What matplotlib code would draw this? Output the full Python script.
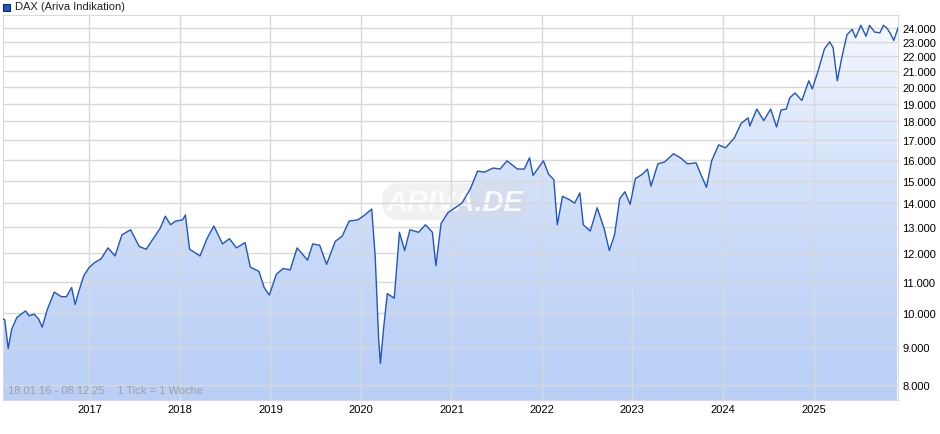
import numpy as np
import pandas as pd
import matplotlib
matplotlib.use('Agg')
import matplotlib.pyplot as plt
from matplotlib.ticker import FixedLocator, FuncFormatter, NullLocator

plt.rcParams['font.family'] = ['Liberation Sans', 'DejaVu Sans']

# wöchentliche/monatliche Stützpunkte DAX
dates = [
    '2016-01-18', '2016-01-25', '2016-02-08', '2016-02-22', '2016-03-14', '2016-04-18', '2016-05-02',
    '2016-05-23', '2016-06-10', '2016-06-24', '2016-07-15', '2016-08-12', '2016-09-09', '2016-09-30',
    '2016-10-21', '2016-11-04', '2016-11-18', '2016-12-09', '2016-12-30',
    '2017-01-20', '2017-02-17', '2017-03-17', '2017-04-14', '2017-05-12', '2017-06-16', '2017-07-21',
    '2017-08-18', '2017-09-15', '2017-10-13', '2017-11-03', '2017-11-24', '2017-12-15',
    '2018-01-12', '2018-01-23', '2018-02-09', '2018-03-23', '2018-04-20', '2018-05-18', '2018-06-22',
    '2018-07-20', '2018-08-17', '2018-09-21', '2018-10-12', '2018-11-16', '2018-12-07', '2018-12-28',
    '2019-01-25', '2019-02-22', '2019-03-22', '2019-04-19', '2019-05-31', '2019-06-21', '2019-07-19',
    '2019-08-16', '2019-09-20', '2019-10-18', '2019-11-15', '2019-12-20',
    '2020-01-17', '2020-02-14', '2020-02-28', '2020-03-13', '2020-03-20', '2020-04-03', '2020-04-17',
    '2020-05-15', '2020-06-05', '2020-06-26', '2020-07-17', '2020-08-21', '2020-09-18', '2020-10-16',
    '2020-10-30', '2020-11-20', '2020-12-18',
    '2021-01-15', '2021-02-12', '2021-03-19', '2021-04-16', '2021-05-14', '2021-06-18', '2021-07-16',
    '2021-08-13', '2021-09-24', '2021-10-22', '2021-11-12', '2021-11-26', '2021-12-17',
    '2022-01-07', '2022-01-28', '2022-02-18', '2022-03-04', '2022-03-25', '2022-04-22', '2022-05-13',
    '2022-06-03', '2022-06-17', '2022-07-15', '2022-08-12', '2022-09-09', '2022-09-30', '2022-10-21',
    '2022-11-11', '2022-12-02', '2022-12-23',
    '2023-01-13', '2023-02-10', '2023-03-03', '2023-03-17', '2023-04-14', '2023-05-12', '2023-06-16',
    '2023-07-14', '2023-08-11', '2023-09-15', '2023-10-06', '2023-10-27', '2023-11-17', '2023-12-15',
    '2024-01-12', '2024-02-16', '2024-03-15', '2024-04-12', '2024-04-19', '2024-05-17', '2024-06-14',
    '2024-07-12', '2024-08-05', '2024-08-23', '2024-09-13', '2024-09-27', '2024-10-18', '2024-11-15',
    '2024-12-13', '2024-12-27',
    '2025-01-17', '2025-02-14', '2025-03-07', '2025-03-21', '2025-04-07', '2025-04-25', '2025-05-16',
    '2025-06-06', '2025-06-20', '2025-07-11', '2025-08-01', '2025-08-15', '2025-09-05', '2025-09-26',
    '2025-10-10', '2025-10-24', '2025-11-07', '2025-11-21', '2025-12-08',
]
values = [
    9800, 9780, 8950, 9500, 9850, 10050, 9900,
    9950, 9800, 9560, 10100, 10650, 10500, 10500,
    10800, 10250, 10650, 11200, 11480,
    11650, 11800, 12200, 11900, 12700, 12900, 12250,
    12150, 12550, 12950, 13450, 13100, 13250,
    13300, 13500, 12150, 11900, 12550, 13050, 12350,
    12550, 12200, 12400, 11500, 11350, 10800, 10550,
    11250, 11450, 11400, 12200, 11750, 12350, 12300,
    11600, 12450, 12650, 13250, 13300,
    13500, 13750, 11900, 9230, 8550, 9600, 10600,
    10450, 12800, 12100, 12900, 12800, 13100, 12800,
    11550, 13150, 13600,
    13800, 14000, 14650, 15450, 15400, 15600, 15550,
    15950, 15550, 15550, 16100, 15250, 15600,
    15950, 15300, 15050, 13100, 14300, 14150, 14000,
    14450, 13100, 12850, 13800, 12950, 12100, 12700,
    14200, 14500, 13950,
    15100, 15300, 15550, 14750, 15800, 15900, 16300,
    16100, 15800, 15850, 15250, 14700, 15950, 16750,
    16600, 17100, 17900, 18200, 17750, 18700, 18050,
    18700, 17700, 18650, 18700, 19350, 19650, 19200,
    20400, 19900,
    20900, 22500, 23000, 22600, 20400, 21900, 23500,
    23900, 23300, 24200, 23400, 24200, 23700, 23650,
    24200, 24000, 23600, 23100, 24000,
]

yticks = [8000, 9000, 10000, 11000, 12000, 13000, 14000, 15000, 16000,
          17000, 18000, 19000, 20000, 21000, 22000, 23000, 24000]

s = pd.Series(values, index=pd.to_datetime(dates))

fig = plt.figure(figsize=(9.4, 4.35), dpi=100)
ax = fig.add_axes([3 / 940, 34 / 435, 895 / 940, 385 / 435])
ax.set_yscale('log')
ymin, ymax = 7640, 24980
xmin, xmax = pd.Timestamp('2016-01-18'), pd.Timestamp('2025-12-08')
ax.set_xlim(xmin, xmax)
ax.set_ylim(ymin, ymax)

# Verlauf als Hintergrund, auf Fläche unter der Kurve beschnitten
grad = np.linspace(0, 1, 256).reshape(-1, 1)
cmap = matplotlib.colors.LinearSegmentedColormap.from_list('g', ['#b9cff6', '#f8fbff'])
img = ax.imshow(grad, aspect='auto', cmap=cmap, origin='lower',
                extent=[matplotlib.dates.date2num(xmin), matplotlib.dates.date2num(xmax), ymin, ymax],
                zorder=1)
poly = ax.fill_between(s.index, s.values, ymin, color='none', lw=0)
clip = poly.get_paths()[0]
img.set_clip_path(clip, transform=ax.transData)
ax.plot(s.index, s.values, color='#1f56c4', lw=1.0, zorder=3)

ax.yaxis.tick_right()
ax.yaxis.set_major_locator(FixedLocator(yticks))
ax.yaxis.set_minor_locator(NullLocator())
ax.yaxis.set_major_formatter(FuncFormatter(lambda v, p: f'{int(v):,}'.replace(',', '.')))
years = pd.to_datetime([f'{y}-01-01' for y in range(2017, 2026)])
ax.set_xticks(years)
ax.set_xticklabels([str(y) for y in range(2017, 2026)])
ax.tick_params(length=0, labelsize=8, pad=3)
ax.grid(True, color='#d9d9d9', lw=1, zorder=2)
ax.set_axisbelow(False)
for sp in ax.spines.values():
    sp.set_color('#d9d9d9')

ax.text(0.505, 0.515, 'ARIVA.DE', transform=ax.transAxes, fontsize=21, style='italic',
        fontweight='bold', color='white', alpha=0.85, ha='center', va='center', zorder=2.5,
        bbox=dict(boxstyle='round,pad=0.15,rounding_size=0.6', facecolor='#d8d8d8',
                  edgecolor='none', alpha=0.35))
ax.text(0.006, 0.012, '18.01.16 - 08.12.25    1 Tick = 1 Woche', transform=ax.transAxes,
        fontsize=8, color='#a0a0a0', va='bottom', zorder=4)

fig.patches.append(plt.Rectangle((3 / 940, 1 - 12 / 435), 7 / 940, 7 / 435, transform=fig.transFigure,
                                 facecolor='#1f56c4', edgecolor='#0a2a70', lw=0.8))
fig.text(15 / 940, 1 - 7 / 435, 'DAX (Ariva Indikation)', fontsize=8, va='center', color='#222222')

fig.savefig('out.png', dpi=100)
